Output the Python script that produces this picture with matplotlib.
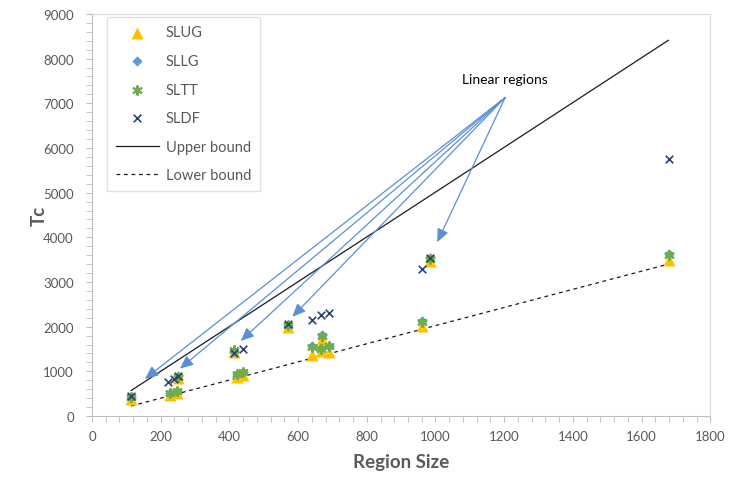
import matplotlib
matplotlib.use("Agg")
import matplotlib.pyplot as plt
from matplotlib.ticker import MultipleLocator

plt.rcParams['font.family'] = ['Lato', 'DejaVu Sans']

# ---- data ----
slug_x = [114, 226, 248, 250, 413, 422, 440, 572, 640, 668, 670, 690, 960, 985, 1680]
slug_y = [370, 480, 520, 860, 1430, 880, 920, 1990, 1370, 1450, 1720, 1430, 2010, 3460, 3490]
sllg_x = [114, 226, 248, 250, 413, 422, 440, 572, 640, 668, 670, 690, 960, 985, 1680]
sllg_y = [430, 520, 560, 900, 1460, 950, 990, 2040, 1560, 1530, 1820, 1570, 2120, 3530, 3630]
sltt_x = [114, 226, 248, 250, 413, 422, 440, 572, 640, 668, 670, 690, 960, 985, 1680]
sltt_y = [430, 510, 560, 880, 1470, 940, 980, 2040, 1550, 1500, 1800, 1560, 2100, 3520, 3610]
sldf_x = [114, 222, 240, 250, 413, 440, 570, 640, 668, 690, 960, 985, 1680]
sldf_y = [450, 760, 820, 900, 1420, 1500, 2050, 2150, 2250, 2300, 3280, 3530, 5750]
upper_x = [114, 1678]
upper_y = [570, 8410]
lower_x = [114, 1678]
lower_y = [225, 3400]

annot_text = "Linear regions"
annot_src = (1203, 7130)
annot_targets = [(154, 830), (256, 1060), (433, 1680), (583, 2220), (1005, 3890)]

fig = plt.figure(figsize=(7.3, 4.81), dpi=100)
ax = fig.add_axes([0.126, 0.133, 0.847, 0.836])

ax.plot(upper_x, upper_y, color='#1a1a1a', lw=0.9, label='Upper bound', zorder=2)
ax.plot(lower_x, lower_y, color='#1a1a1a', lw=0.9, ls=(0, (3, 3)), label='Lower bound', zorder=2)

ax.scatter(slug_x, slug_y, marker='^', s=75, color='#FFC000', label='SLUG', zorder=3, linewidths=0)
ax.scatter(sllg_x, sllg_y, marker='D', s=28, color='#5B9BD5', label='SLLG', zorder=4, linewidths=0)
ax.scatter(sltt_x, sltt_y, marker=(6, 2, 0), s=40, color='#70AD47', label='SLTT', zorder=5, linewidths=1.5)
ax.scatter(sldf_x, sldf_y, marker='x', s=30, color='#264478', label='SLDF', zorder=6, linewidths=1.2)

for tx, ty in annot_targets:
    ax.annotate('', xy=(tx, ty), xytext=annot_src,
                arrowprops=dict(arrowstyle='-|>,head_length=0.8,head_width=0.35',
                                color='#5B8FD6', lw=0.9, shrinkA=0, shrinkB=0), zorder=7)
ax.text(1078, 7540, annot_text, fontsize=10, color='#000000', ha='left', va='center')

ax.set_xlim(0, 1800)
ax.set_ylim(0, 9000)
ax.xaxis.set_major_locator(MultipleLocator(200))
ax.xaxis.set_minor_locator(MultipleLocator(40))
ax.yaxis.set_major_locator(MultipleLocator(1000))
ax.yaxis.set_minor_locator(MultipleLocator(200))
ax.tick_params(which='both', direction='out', color='#BFBFBF', labelcolor='#595959', labelsize=9.5)
ax.tick_params(which='major', length=4)
ax.tick_params(which='minor', length=4)
ax.tick_params(axis='y', which='major', pad=9)
ax.tick_params(axis='x', which='major', pad=6)
for s in ['left', 'bottom']:
    ax.spines[s].set_color('#BFBFBF')
for s in ['top', 'right']:
    ax.spines[s].set_color('#D9D9D9')

ax.set_xlabel('Region Size', fontsize=13.5, fontweight='bold', color='#595959', labelpad=8)
ax.set_ylabel('Tc', fontsize=13.5, fontweight='bold', color='#595959', labelpad=-3)

handles, labels = ax.get_legend_handles_labels()
order = [labels.index(l) for l in ['SLUG', 'SLLG', 'SLTT', 'SLDF', 'Upper bound', 'Lower bound']]
leg = ax.legend([handles[i] for i in order], [labels[i] for i in order],
                loc='upper left', bbox_to_anchor=(0.024, 0.993), borderaxespad=0,
                fontsize=10.5, frameon=True, fancybox=False, edgecolor='#D9D9D9',
                labelspacing=1.0, handlelength=3.0, borderpad=0.6, handletextpad=0.45,
                scatterpoints=1)
for t in leg.get_texts():
    t.set_color('#595959')

fig.savefig('out.png', dpi=100)
